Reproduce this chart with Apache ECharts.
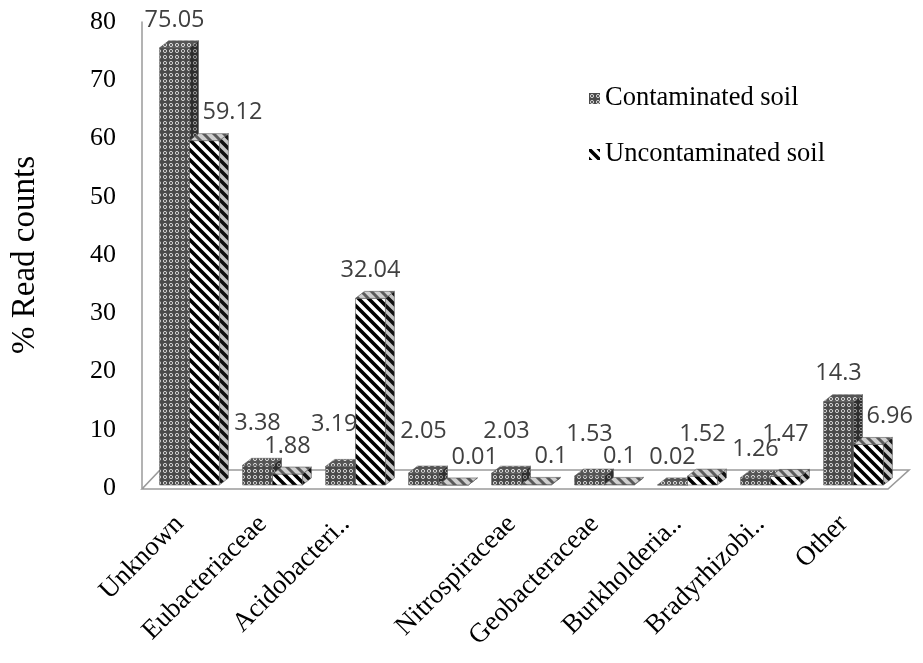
<!DOCTYPE html>
<html>
<head>
<meta charset="utf-8">
<script src="https://cdn.jsdelivr.net/npm/echarts@6/dist/echarts.min.js"></script>
<style>
  html, body { margin: 0; padding: 0; background: #ffffff; }
  #chart { width: 923px; height: 663px; }
</style>
</head>
<body>
<div id="chart"></div>
<script>
// Bacterial families (one label is left blank on the axis)
const families = ['Unknown', 'Eubacteriaceae', 'Acidobacteri..', '', 'Nitrospiraceae',
  'Geobacteraceae', 'Burkholderia..', 'Bradyrhizobi..', 'Other'];
// % read counts per family
const contaminated = [75.05, 3.38, 3.19, 2.05, 2.03, 1.53, 0.02, 1.26, 14.3];
const uncontaminated = [59.12, 1.88, 32.04, 0.01, 0.1, 0.1, 1.52, 1.47, 6.96];
const seriesNames = ['Contaminated soil', 'Uncontaminated soil'];

const SERIF = '"Liberation Serif", "Times New Roman", serif';
const VALUE_FONT = '23.5px "Open Sans", "Noto Sans", sans-serif';

// ---- fill patterns -------------------------------------------------------
function tile(size, draw) {
  const c = document.createElement('canvas');
  c.width = c.height = size;
  draw(c.getContext('2d'), size);
  return { image: c, repeat: 'repeat' };
}
function dots(bg, ring) {
  return tile(6, (g, s) => {
    g.fillStyle = bg; g.fillRect(0, 0, s, s);
    g.strokeStyle = ring; g.lineWidth = 1;
    g.beginPath(); g.arc(3, 3, 1.6, 0, Math.PI * 2); g.stroke();
  });
}
function stripes(bg, ink, w) {
  return tile(10, (g, s) => {
    g.fillStyle = bg; g.fillRect(0, 0, s, s);
    g.strokeStyle = ink; g.lineWidth = w; g.lineCap = 'square';
    g.beginPath();
    for (const o of [-10, 0, 10]) { g.moveTo(o - 2, -2); g.lineTo(o + s + 2, s + 2); }
    g.stroke();
  });
}
const faces = [
  { front: dots('#4a4a4a', '#d4d4d4'), top: dots('#555555', '#dddddd'), side: dots('#2e2e2e', '#9a9a9a') },
  { front: stripes('#ffffff', '#000000', 3.6), top: stripes('#cfcfcf', '#5a5a5a', 3), side: stripes('#c4c4c4', '#111111', 3.6) }
];

// ---- 3D-style column geometry on the category / value axes ----------------
const DX = 9, DY = 7;
function columnBox(side, api, i, v) {
  const base = api.coord([i, 0]);
  const top = api.coord([i, v]);
  const w = api.size([1, 0])[0] * 0.36;
  const x0 = base[0] + (side === 0 ? -w : 0);
  return { x0: x0, x1: x0 + w, w: w, yb: base[1] - 3, yt: top[1] - 3 };
}
function columnRenderer(side) {
  return function (params, api) {
    const b = columnBox(side, api, api.value(0), api.value(1));
    const f = faces[side];
    const edge = { stroke: '#5a5a5a', lineWidth: 0.6 };
    return {
      type: 'group',
      children: [
        { type: 'polygon', shape: { points: [[b.x1, b.yt], [b.x1 + DX, b.yt - DY], [b.x1 + DX, b.yb - DY], [b.x1, b.yb]] },
          style: Object.assign({ fill: f.side }, edge) },
        { type: 'rect', shape: { x: b.x0, y: b.yt, width: b.w, height: b.yb - b.yt },
          style: Object.assign({ fill: f.front }, edge) },
        { type: 'polygon', shape: { points: [[b.x0, b.yt], [b.x1, b.yt], [b.x1 + DX, b.yt - DY], [b.x0 + DX, b.yt - DY]] },
          style: Object.assign({ fill: f.top }, edge) }
      ]
    };
  };
}
// value labels above every column; a small value is lifted when its pair
// neighbour would crowd it, and a label that would sit over the neighbouring
// column is moved beside it instead
function labelRenderer(side, partner) {
  return function (params, api) {
    const i = api.value(0), v = api.value(1);
    const b = columnBox(side, api, i, v);
    const other = partner[i];
    const nb = columnBox(1 - side, api, i, other);
    const lift = (v < 5 && (v >= other || other >= 5)) ? 14 : 0;
    const y = b.yt - 28 - lift;
    let x = b.x0 + b.w / 2, align = 'center';
    if (y + 10 > nb.yt - DY) {
      if (side === 1) { x = b.x0 + DX + 4; align = 'left'; }
      else { x = b.x1 + 2; align = 'right'; }
    }
    return {
      type: 'text',
      style: { text: String(v), x: x, y: y, align: align, verticalAlign: 'middle',
        font: VALUE_FONT, fill: '#404040' }
    };
  };
}

// floor plane under the columns, built from the grid rectangle
function floorRenderer(params) {
  const cs = params.coordSys;
  const B = cs.y + cs.height + 1;
  const L = cs.x - 6, R = cs.x + cs.width - 7;
  return {
    type: 'polygon',
    shape: { points: [[L, B], [R, B], [R + 21, B - 19], [L + 18, B - 19]] },
    style: { fill: '#ffffff', stroke: '#9a9a9a', lineWidth: 1.6 }
  };
}

const pairs = (arr) => arr.map((v, i) => [i, v]);

const chart = echarts.init(document.getElementById('chart'), null, { renderer: 'canvas' });
chart.setOption({
  backgroundColor: '#ffffff',
  animation: false,
  grid: { left: 148, right: 28, top: 22, bottom: 175 },
  legend: {
    orient: 'vertical',
    left: 584, top: 80,
    itemGap: 29, itemWidth: 11, itemHeight: 11,
    icon: 'rect',
    textStyle: { fontFamily: SERIF, fontSize: 26.5, color: '#000' },
    data: [
      { name: seriesNames[0], itemStyle: { color: faces[0].front } },
      { name: seriesNames[1], itemStyle: { color: faces[1].front } }
    ]
  },
  xAxis: {
    type: 'category',
    data: families,
    axisLine: { show: false },
    axisTick: { show: false },
    axisLabel: { rotate: 45, interval: 0, margin: 22, padding: [0, 14, 0, 0],
      fontFamily: SERIF, fontSize: 27, color: '#000' }
  },
  yAxis: {
    type: 'value',
    min: 0, max: 80, interval: 10,
    offset: 6,
    name: '% Read counts',
    nameLocation: 'middle',
    nameGap: 100,
    nameTextStyle: { fontFamily: SERIF, fontSize: 33, color: '#000' },
    axisLine: { show: true, lineStyle: { color: '#9a9a9a', width: 1.5 } },
    axisTick: { show: false },
    splitLine: { show: false },
    axisLabel: { margin: 26, fontFamily: SERIF, fontSize: 26, color: '#000' }
  },
  series: [
    { type: 'custom', name: 'floor', silent: true, z: 1, clip: false,
      renderItem: floorRenderer, data: [[0, 0]] },
    { type: 'custom', name: seriesNames[0], z: 2, clip: false,
      itemStyle: { color: faces[0].front },
      renderItem: columnRenderer(0), encode: { x: 0, y: 1 }, data: pairs(contaminated) },
    { type: 'custom', name: seriesNames[1], z: 2, clip: false,
      itemStyle: { color: faces[1].front },
      renderItem: columnRenderer(1), encode: { x: 0, y: 1 }, data: pairs(uncontaminated) },
    { type: 'custom', name: 'contaminated-values', silent: true, z: 5, clip: false,
      renderItem: labelRenderer(0, uncontaminated), encode: { x: 0, y: 1 }, data: pairs(contaminated) },
    { type: 'custom', name: 'uncontaminated-values', silent: true, z: 5, clip: false,
      renderItem: labelRenderer(1, contaminated), encode: { x: 0, y: 1 }, data: pairs(uncontaminated) }
  ]
});
</script>
</body>
</html>
